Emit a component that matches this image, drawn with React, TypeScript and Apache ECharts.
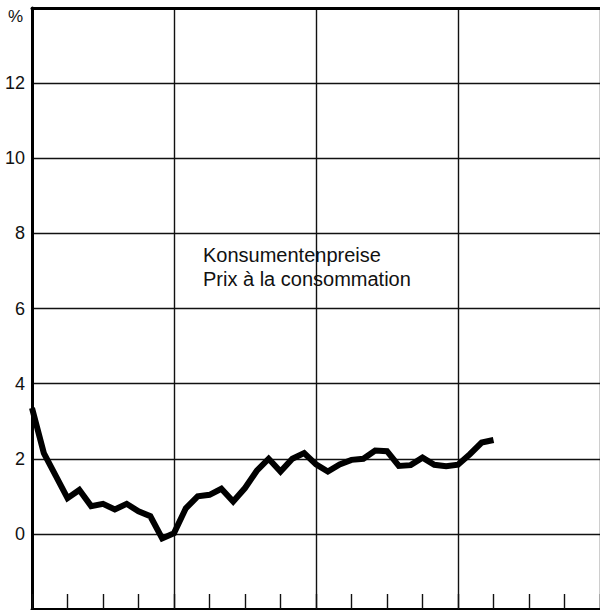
import React, { useEffect, useRef } from "react";
import * as echarts from "echarts";

// months from start (0 = first month of first year)
const months: number[] = [
  0, 1, 2, 3, 4, 5, 6, 7, 8, 9, 10, 11, 12, 13, 14, 15, 16, 17, 18, 19, 20,
  21, 22, 23, 24, 25, 26, 27, 28, 29, 30, 31, 32, 33, 34, 35, 36, 37, 38, 39,
];
// Konsumentenpreise, % change
const cpi: number[] = [
  3.35, 2.15, 1.55, 0.95, 1.17, 0.74, 0.8, 0.65, 0.8, 0.6, 0.47, -0.12, 0.02,
  0.68, 1.0, 1.04, 1.2, 0.86, 1.22, 1.68, 2.0, 1.66, 2.0, 2.15, 1.85, 1.66,
  1.85, 1.97, 2.0, 2.22, 2.2, 1.81, 1.83, 2.03, 1.84, 1.8, 1.84, 2.12, 2.43,
  2.5,
];
const yTicks: number[] = [-2, 0, 2, 4, 6, 8, 10, 12, 14];
const labelLines: string[] = ["Konsumentenpreise", "Prix à la consommation"];

const FONT = "'Liberation Sans', Arial, Helvetica, sans-serif";

export default function App() {
  const ref = useRef<HTMLDivElement>(null);
  useEffect(() => {
    if (!ref.current) return;
    const chart = echarts.init(ref.current, undefined, { renderer: "svg" });
    const xMin = 0;
    const xMax = 48;
    chart.setOption({
      animation: false,
      backgroundColor: "#ffffff",
      grid: { left: 32, top: 8, width: 572, height: 601, containLabel: false },
      xAxis: [
        {
          type: "value",
          min: xMin,
          max: xMax,
          interval: 12,
          position: "bottom",
          axisLine: { show: true, onZero: false, lineStyle: { color: "#000", width: 3 } },
          axisTick: { show: false },
          axisLabel: { show: false },
          splitLine: { show: true, lineStyle: { color: "#111", width: 1.4 } },
        },
        {
          type: "value",
          min: xMin,
          max: xMax,
          interval: 3,
          position: "bottom",
          axisLine: { show: false, onZero: false },
          axisTick: { show: true, inside: true, length: 15, lineStyle: { color: "#111", width: 1.4 } },
          axisLabel: { show: false },
          splitLine: { show: false },
        },
        {
          type: "value",
          min: xMin,
          max: xMax,
          interval: 12,
          position: "top",
          axisLine: { show: true, onZero: false, lineStyle: { color: "#000", width: 3 } },
          axisTick: { show: false },
          axisLabel: { show: false },
          splitLine: { show: false },
        },
      ],
      yAxis: {
        type: "value",
        min: yTicks[0],
        max: yTicks[yTicks.length - 1],
        interval: 2,
        axisLine: { show: true, onZero: false, lineStyle: { color: "#000", width: 3 } },
        axisTick: { show: false },
        axisLabel: {
          show: true,
          margin: 7,
          fontSize: 18,
          fontFamily: FONT,
          color: "#111",
          formatter: (v: number) => (v === yTicks[0] || v === yTicks[yTicks.length - 1] ? "" : String(v)),
        },
        splitLine: { show: true, lineStyle: { color: "#111", width: 1.4 } },
      },
      graphic: [
        {
          type: "text",
          left: 8,
          top: 8,
          style: { text: "%", fontSize: 17, fontFamily: FONT, fill: "#111" },
        },
        {
          type: "text",
          left: 203,
          top: 243,
          style: {
            text: labelLines.join("\n"),
            fontSize: 20,
            lineHeight: 24,
            fontFamily: FONT,
            fill: "#111",
          },
        },
      ],
      series: [
        {
          type: "line",
          xAxisIndex: 0,
          data: months.map((m, i) => [m, cpi[i]]),
          showSymbol: false,
          symbol: "none",
          lineStyle: { color: "#000", width: 6, join: "miter", cap: "butt" },
        },
      ],
    });
    return () => chart.dispose();
  }, []);
  return (
    <div
      ref={ref}
      style={{ position: "fixed", left: 0, top: 0, width: 600, height: 610, background: "#fff" }}
    />
  );
}
